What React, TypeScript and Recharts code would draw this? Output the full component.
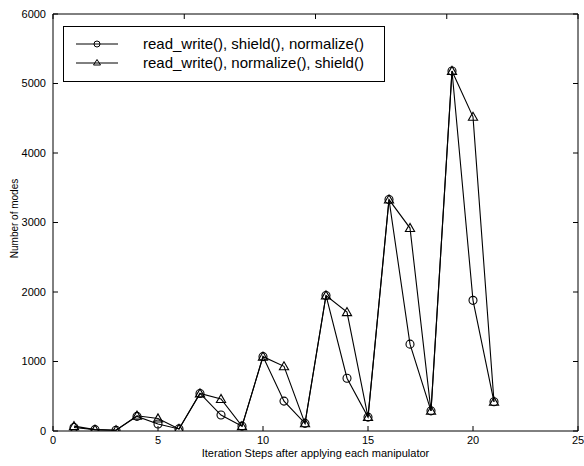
import React from 'react';
import { LineChart, Line, XAxis, YAxis, Legend, Label } from 'recharts';

const steps = [1, 2, 3, 4, 5, 6, 7, 8, 9, 10, 11, 12, 13, 14, 15, 16, 17, 18, 19, 20, 21];
const shieldFirst = [50, 20, 10, 210, 100, 30, 540, 230, 70, 1070, 430, 110, 1950, 760, 200, 3330, 1250, 290, 5180, 1880, 420];
const normalizeFirst = [70, 20, 10, 220, 180, 30, 540, 460, 70, 1070, 930, 110, 1950, 1710, 200, 3330, 2920, 290, 5180, 4520, 420];
const seriesNames = ['read_write(), shield(), normalize()', 'read_write(), normalize(), shield()'];
const xTicks = [0, 5, 10, 15, 20, 25];
const yTicks = [0, 1000, 2000, 3000, 4000, 5000, 6000];
const xLabel = 'Iteration Steps after applying each manipulator';
const yLabel = 'Number of modes';

const data = steps.map((s, i) => ({ step: s, a: shieldFirst[i], b: normalizeFirst[i] }));

const FONT = '"Liberation Sans", Arial, Helvetica, sans-serif';

const CircleDot = (props: any) => {
  const { cx, cy, index } = props;
  if (cx == null || cy == null) return null;
  return <circle key={'c' + index} cx={cx} cy={cy} r={4} fill="none" stroke="#000" strokeWidth={1.1} />;
};

const TriDot = (props: any) => {
  const { cx, cy, index } = props;
  if (cx == null || cy == null) return null;
  const s = 4.6;
  const pts = `${cx},${cy - s} ${cx - s},${cy + s * 0.75} ${cx + s},${cy + s * 0.75}`;
  return <polygon key={'t' + index} points={pts} fill="none" stroke="#000" strokeWidth={1.1} />;
};

const LegendBox = () => (
  <svg width={322} height={56} style={{ display: 'block' }}>
    <rect x={0.5} y={0.5} width={321} height={55} fill="#fff" stroke="#000" strokeWidth={1} />
    <line x1={13} x2={55} y1={18} y2={18} stroke="#000" strokeWidth={1} />
    <circle cx={34} cy={18} r={3} fill="none" stroke="#000" />
    <text x={80} y={18} dy="0.35em" fontSize={15} fontFamily={FONT} fill="#000">{seriesNames[0]}</text>
    <line x1={13} x2={55} y1={37} y2={37} stroke="#000" strokeWidth={1} />
    <polygon points="34,33.5 30.5,39 37.5,39" fill="none" stroke="#000" />
    <text x={80} y={37} dy="0.35em" fontSize={15} fontFamily={FONT} fill="#000">{seriesNames[1]}</text>
  </svg>
);

const YLabelContent = (props: any) => {
  const vb = props.viewBox || {};
  const x = vb.x + 14;
  const y = vb.y + vb.height / 2 - 4;
  return (
    <text x={x} y={y} transform={`rotate(-90, ${x}, ${y})`} textAnchor="middle" dominantBaseline="central" fontSize={10} fontFamily={FONT} fill="#000">
      {yLabel}
    </text>
  );
};

const XLabelContent = (props: any) => {
  const vb = props.viewBox || {};
  const x = vb.x + vb.width / 2;
  const y = vb.y + 22;
  return (
    <text x={x} y={y} textAnchor="middle" dominantBaseline="central" fontSize={11} fontFamily={FONT} fill="#000">
      {xLabel}
    </text>
  );
};

const tickStyle = { fontSize: 11, fill: '#000', fontFamily: FONT };

export default function App() {
  return (
    <div style={{ position: 'absolute', left: 0, top: 0, width: 584, height: 466, background: '#fff' }}>
      <LineChart width={584} height={466} data={data} margin={{ top: 0, right: 0, bottom: 0, left: 0 }}>
        <XAxis
          dataKey="step"
          type="number"
          domain={[0, 25]}
          ticks={xTicks}
          allowDataOverflow
          height={35}
          stroke="#000"
          axisLine={{ stroke: '#000' }}
          tickLine={{ stroke: '#000' }}
          tickSize={-5}
          tickMargin={10}
          tick={tickStyle}
          interval={0}
        >
          <Label content={XLabelContent} />
        </XAxis>
        <XAxis
          xAxisId="top"
          orientation="top"
          type="number"
          domain={[0, 25]}
          ticks={xTicks}
          allowDataOverflow
          height={14}
          axisLine={{ stroke: '#000' }}
          tickLine={{ stroke: '#000' }}
          tickSize={-5}
          tickFormatter={() => ''}
          interval={0}
        />
        <YAxis
          type="number"
          domain={[0, 6000]}
          ticks={yTicks}
          allowDataOverflow
          width={53}
          axisLine={{ stroke: '#000' }}
          tickLine={{ stroke: '#000' }}
          tickSize={-5}
          tickMargin={12}
          tick={tickStyle}
          interval={0}
        >
          <Label content={YLabelContent} />
        </YAxis>
        <YAxis
          yAxisId="right"
          orientation="right"
          type="number"
          domain={[0, 6000]}
          ticks={yTicks}
          allowDataOverflow
          width={6}
          axisLine={{ stroke: '#000' }}
          tickLine={{ stroke: '#000' }}
          tickSize={-5}
          tickFormatter={() => ''}
          interval={0}
        />
        <Legend
          layout="horizontal"
          verticalAlign="middle"
          align="center"
          wrapperStyle={{ position: 'absolute', left: 63, top: 26, width: 322, height: 56 }}
          content={() => <LegendBox />}
        />
        <Line
          dataKey="a"
          name={seriesNames[0]}
          stroke="#000"
          strokeWidth={1.1}
          dot={CircleDot}
          activeDot={false}
          isAnimationActive={false}
        />
        <Line
          dataKey="b"
          name={seriesNames[1]}
          stroke="#000"
          strokeWidth={1.1}
          dot={TriDot}
          activeDot={false}
          isAnimationActive={false}
        />
      </LineChart>
    </div>
  );
}
